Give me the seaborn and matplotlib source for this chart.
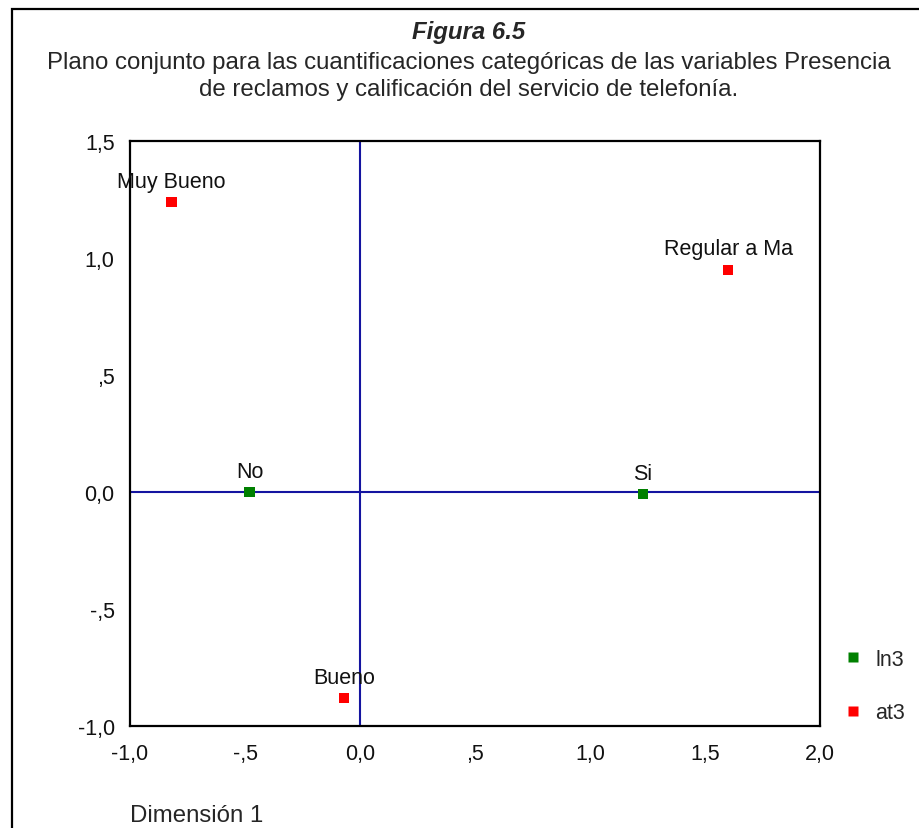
import matplotlib
matplotlib.use("Agg")
import matplotlib.pyplot as plt
from matplotlib.patches import Rectangle
import pandas as pd
import seaborn as sns

# category quantifications (dimension 1, dimension 2)
labels = ["No", "Si", "Muy Bueno", "Bueno", "Regular a Ma"]
variable = ["ln3", "ln3", "at3", "at3", "at3"]
dim1 = [-0.48, 1.23, -0.82, -0.07, 1.60]
dim2 = [0.00, -0.01, 1.24, -0.88, 0.95]

xticks = [-1.0, -0.5, 0.0, 0.5, 1.0, 1.5, 2.0]
xticklabels = ["-1,0", "-,5", "0,0", ",5", "1,0", "1,5", "2,0"]
yticks = [-1.0, -0.5, 0.0, 0.5, 1.0, 1.5]
yticklabels = ["-1,0", "-,5", "0,0", ",5", "1,0", "1,5"]

df = pd.DataFrame({"dim1": dim1, "dim2": dim2, "label": labels, "variable": variable})

sns.set_style("white")
plt.rcParams["font.family"] = ["Liberation Sans", "DejaVu Sans"]
fs = 15.5       # point labels, ticks, legend
fs_title = 17.3  # heading and axis title

fig = plt.figure(figsize=(9.19, 8.29), dpi=100)
ax = fig.add_axes([130 / 919, 1 - 727 / 829, 690 / 919, 585 / 829])

ax.axhline(0, color="#1414a0", lw=1.5, zorder=1)
ax.axvline(0, color="#1414a0", lw=1.5, zorder=1)

sns.scatterplot(data=df, x="dim1", y="dim2", hue="variable", hue_order=["ln3", "at3"],
                palette={"ln3": "#008000", "at3": "#ff0000"}, marker="s", s=55,
                edgecolor="none", ax=ax, zorder=3)

for _, r in df.iterrows():
    ax.annotate(r["label"], (r["dim1"], r["dim2"]), xytext=(0, 15), textcoords="offset points",
                ha="center", va="center", fontsize=fs, color="#111111")

ax.set_xlim(-1.0, 2.0)
ax.set_ylim(-1.0, 1.5)
ax.set_xticks(xticks)
ax.set_xticklabels(xticklabels)
ax.set_yticks(yticks)
ax.set_yticklabels(yticklabels)
ax.tick_params(axis="both", direction="out", length=3, width=2.5, color="black",
               labelsize=fs, labelcolor="#111111")
ax.tick_params(axis="x", pad=9)
ax.tick_params(axis="y", pad=8)
ax.set_xlabel("")
ax.set_ylabel("")
for sp in ax.spines.values():
    sp.set_visible(True)
    sp.set_color("black")
    sp.set_linewidth(1.6)

handles, _ = ax.get_legend_handles_labels()
ax.legend(handles=handles, labels=["ln3", "at3"], loc="upper left",
          bbox_to_anchor=(842 / 919, 1 - 650 / 829), bbox_transform=fig.transFigure,
          frameon=False, fontsize=fs, labelspacing=1.5, handletextpad=0.55,
          handlelength=1.0, borderpad=0, borderaxespad=0)

fig.text(469 / 919, 1 - 33 / 829, "Figura 6.5", ha="center", va="center",
         fontsize=fs_title, fontweight="bold", fontstyle="italic")
fig.text(469 / 919, 1 - 63 / 829, "Plano conjunto para las cuantificaciones categóricas de las variables Presencia",
         ha="center", va="center", fontsize=fs_title)
fig.text(469 / 919, 1 - 90 / 829, "de reclamos y calificación del servicio de telefonía.",
         ha="center", va="center", fontsize=fs_title)
fig.text(130 / 919, 1 - 816 / 829, "Dimensión 1", ha="left", va="center", fontsize=fs_title)

# outer frame
fig.patches.append(Rectangle((12 / 919, -0.05), 1.2, 1 - 10 / 829 + 0.05, transform=fig.transFigure,
                             fill=False, edgecolor="black", lw=1.6))

fig.savefig("out.png", dpi=100)
